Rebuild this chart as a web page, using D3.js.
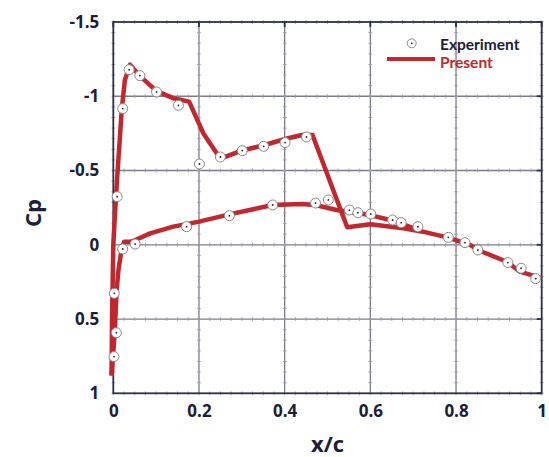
<!DOCTYPE html>
<html>
<head>
<meta charset="utf-8">
<script src="https://cdn.jsdelivr.net/npm/d3@7"></script>
<style>
  body { margin: 0; background: #fff; }
  svg text { font-family: "Open Sans", "Noto Sans", sans-serif; font-weight: bold; fill: #1b2038; }
</style>
</head>
<body>
<svg id="chart" width="549" height="457"></svg>
<script>
// experiment points, upper surface
const expUpperX = [0.009, 0.022, 0.037, 0.062, 0.101, 0.152, 0.201, 0.25, 0.301, 0.351, 0.401, 0.451,
    0.502, 0.551, 0.571, 0.601, 0.652, 0.672, 0.711]
const expUpperCp = [-0.324, -0.917, -1.179, -1.139, -1.029, -0.939, -0.544, -0.591, -0.634, -0.663, -0.688, -0.726,
    -0.302, -0.234, -0.216, -0.207, -0.167, -0.149, -0.122]
// experiment points, lower surface + trailing edge
const expLowerX = [0.0016, 0.007, 0.0023, 0.022, 0.051, 0.171, 0.271, 0.372, 0.472,
    0.782, 0.821, 0.851, 0.921, 0.952, 0.986]
const expLowerCp = [0.753, 0.592, 0.327, 0.028, -0.005, -0.122, -0.196, -0.268, -0.281,
    -0.05, -0.014, 0.035, 0.12, 0.158, 0.228]

// present (computed) curve
const presUpperX = [-0.004, -0.003, 0.0, 0.004, 0.009, 0.02, 0.027, 0.039, 0.062, 0.101, 0.14, 0.177,
    0.21, 0.25, 0.301, 0.351, 0.401, 0.44, 0.465, 0.546, 0.6, 0.677, 0.72]
const presUpperCp = [0.88, 0.5, 0.0, -0.21, -0.45, -0.92, -1.11, -1.213, -1.137, -1.035, -0.987, -0.964,
    -0.751, -0.58, -0.635, -0.67, -0.712, -0.739, -0.739, -0.118, -0.138, -0.111, -0.09]
const presLowerX = [-0.004, 0.003, 0.008, 0.012, 0.018, 0.025, 0.039, 0.05, 0.086, 0.14, 0.2, 0.271,
    0.372, 0.44, 0.472, 0.521, 0.599, 0.654, 0.72, 0.78, 0.833, 0.851, 0.92, 0.949, 1.0]
const presLowerCp = [0.88, 0.6, 0.3, 0.17, 0.057, -0.02, -0.02, -0.03, -0.077, -0.122, -0.156, -0.205,
    -0.268, -0.275, -0.268, -0.234, -0.2, -0.162, -0.09, -0.05, 0.0, 0.035, 0.116, 0.181, 0.225]

const xTicks = [0, 0.2, 0.4, 0.6, 0.8, 1]
const yTicks = [-1.5, -1, -0.5, 0, 0.5, 1]
const legendLabels = ["Experiment", "Present"]

const red = "#c1272d"
const dark = "#1b2038"

let svg = d3.select("#chart")

let pLeft = 113.3, pRight = 541.7, pTop = 22, pBottom = 393.3

let xScale = d3.scaleLinear().domain([0, 1]).range([pLeft, pRight])
let yScale = d3.scaleLinear().domain([-1.5, 1]).range([pTop, pBottom])

// grid
let grid = svg.append("g")
grid.selectAll(".vg").data(xTicks.slice(1, -1)).enter().append("line")
    .attr("x1", d => xScale(d)).attr("x2", d => xScale(d))
    .attr("y1", pTop).attr("y2", pBottom)
    .attr("stroke", "#7c7d8c").attr("stroke-width", 1.3)
grid.selectAll(".hg").data(yTicks.slice(1, -1)).enter().append("line")
    .attr("y1", d => yScale(d)).attr("y2", d => yScale(d))
    .attr("x1", pLeft).attr("x2", pRight)
    .attr("stroke", "#7c7d8c").attr("stroke-width", 1.3)

// minor ticks along grid lines and frame
let xMinor = d3.range(0, 1.0001, 0.025)
let yMinor = d3.range(-1.5, 1.0001, 0.5 / 7)
let minor = svg.append("g").attr("stroke", "#9a9aa8").attr("stroke-width", 0.8)
for (let gy of yTicks) {
    minor.selectAll(null).data(xMinor).enter().append("line")
        .attr("x1", d => xScale(d)).attr("x2", d => xScale(d))
        .attr("y1", yScale(gy) - 2).attr("y2", yScale(gy) + 2)
}
for (let gx of xTicks) {
    minor.selectAll(null).data(yMinor).enter().append("line")
        .attr("y1", d => yScale(d)).attr("y2", d => yScale(d))
        .attr("x1", xScale(gx) - 2).attr("x2", xScale(gx) + 2)
}

// frame
svg.append("rect")
    .attr("x", pLeft).attr("y", pTop)
    .attr("width", pRight - pLeft).attr("height", pBottom - pTop)
    .attr("fill", "none").attr("stroke", "#2c3048").attr("stroke-width", 1.8)

// major ticks inside frame
let major = svg.append("g").attr("stroke", "#2c3048").attr("stroke-width", 1.8)
major.selectAll(null).data(yTicks).enter().append("line")
    .attr("x1", pRight - 5).attr("x2", pRight).attr("y1", d => yScale(d)).attr("y2", d => yScale(d))
major.selectAll(null).data(xTicks).enter().append("line")
    .attr("x1", d => xScale(d)).attr("x2", d => xScale(d)).attr("y1", pTop).attr("y2", pTop + 5)

// axes labels (plain hyphen for minus, like the original)
let fmt = d => String(d)
let xAxis = d3.axisBottom(xScale).tickValues(xTicks).tickFormat(fmt).tickSize(0).tickPadding(12)
let yAxis = d3.axisLeft(yScale).tickValues(yTicks).tickFormat(fmt).tickSize(0).tickPadding(14)

let gx = svg.append("g").attr("transform", `translate(0,${pBottom})`).call(xAxis)
let gy = svg.append("g").attr("transform", `translate(${pLeft},0)`).call(yAxis)
for (let g of [gx, gy]) {
    g.select(".domain").remove()
    g.selectAll("text").style("font-family", '"Open Sans", sans-serif')
        .style("font-weight", "bold").style("font-size", "17px").attr("fill", dark)
}

svg.append("text").attr("x", (pLeft + pRight) / 2).attr("y", 452)
    .attr("text-anchor", "middle").style("font-size", "22px").text("x/c")
svg.append("text").attr("transform", "translate(41,213) rotate(-90)")
    .attr("text-anchor", "middle").style("font-size", "22px").text("Cp")

// curves
let line = d3.line().x(d => xScale(d[0])).y(d => yScale(d[1]))
let curves = [
    d3.zip(presUpperX, presUpperCp),
    d3.zip(presLowerX, presLowerCp)
]
svg.append("g").selectAll("path").data(curves).enter().append("path")
    .attr("d", line)
    .attr("fill", "none").attr("stroke", red).attr("stroke-width", 4.5)
    .attr("stroke-linejoin", "round")

// experiment markers
let pts = d3.zip(expUpperX, expUpperCp).concat(d3.zip(expLowerX, expLowerCp))
let marks = svg.append("g").selectAll("g").data(pts).enter().append("g")
    .attr("transform", d => `translate(${xScale(d[0])},${yScale(d[1])})`)
marks.append("circle").attr("r", 5).attr("fill", "#fff").attr("stroke", "#8a8a8a").attr("stroke-width", 1)
marks.append("circle").attr("r", 0.9).attr("fill", "#222")

// legend
let legend = svg.append("g")
legend.append("circle").attr("cx", 411.7).attr("cy", 43.3).attr("r", 4.5)
    .attr("fill", "#fff").attr("stroke", "#8a8a8a").attr("stroke-width", 1)
legend.append("circle").attr("cx", 411.7).attr("cy", 43.3).attr("r", 0.9).attr("fill", "#222")
legend.append("line").attr("x1", 387).attr("x2", 435).attr("y1", 59).attr("y2", 59)
    .attr("stroke", red).attr("stroke-width", 4)
legend.append("text").attr("x", 440).attr("y", 49.5)
    .style("font-family", "Lato, sans-serif").style("font-size", "15.5px").text(legendLabels[0])
legend.append("text").attr("x", 440).attr("y", 68)
    .style("font-family", "Lato, sans-serif").style("font-size", "15.5px")
    .style("fill", red).text(legendLabels[1])
</script>
</body>
</html>
